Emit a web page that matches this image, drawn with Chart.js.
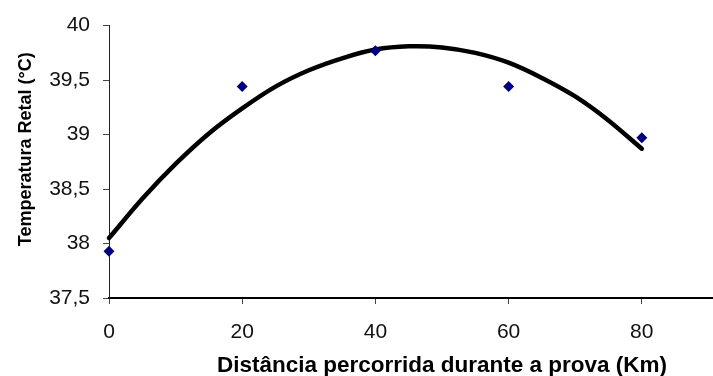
<!DOCTYPE html>
<html>
<head>
<meta charset="utf-8">
<script src="https://cdn.jsdelivr.net/npm/chart.js@4"></script>
<style>
    html, body { margin: 0; padding: 0; background: #fff; overflow: hidden; }
    /* the original picture is cropped on the right, the x axis runs on to 100 */
    .wrap { width: 820px; height: 376px; }
</style>
</head>
<body>
<div class="wrap"><canvas id="tempChart" width="820" height="376"></canvas></div>
<script>
// measured points (km, °C)
const distances = [0, 20, 40, 60, 80];
const temperatures = [37.93, 39.44, 39.77, 39.44, 38.97];

// trend curve every 5 km
const trendX = [0, 5, 10, 15, 20, 25, 30, 35, 40, 45, 50, 55, 60, 65, 70, 75, 80];
const trendY = [38.05, 38.41, 38.73, 39.01, 39.24, 39.44, 39.59, 39.70, 39.78,
                39.81, 39.80, 39.75, 39.66, 39.52, 39.35, 39.13, 38.87];

// tick labels
const xTicks = [0, 20, 40, 60, 80, 100];
const yTicks = [37.5, 38, 38.5, 39, 39.5, 40];

const fontFamily = '"Liberation Sans", Arial, sans-serif';

function initTempChart() {
    const ctx = document.getElementById('tempChart').getContext('2d');
    new Chart(ctx, {
        type: 'scatter',
        data: {
            datasets: [{
                label: 'Tendência',
                data: trendX.map((x, i) => ({ x: x, y: trendY[i] })),
                showLine: true,
                borderColor: '#000',
                borderWidth: 4.5,
                borderCapStyle: 'round',
                tension: 0.3,
                pointRadius: 0,
                clip: false,
                order: 2
            }, {
                label: 'Temperatura',
                data: distances.map((x, i) => ({ x: x, y: temperatures[i] })),
                pointStyle: 'rectRot',
                pointRadius: 5.5,
                backgroundColor: '#00007f',
                borderColor: '#00007f',
                borderWidth: 0,
                clip: false,
                order: 1
            }]
        },
        options: {
            responsive: false,
            animation: false,
            layout: {
                padding: { top: 21, right: 45, left: 0, bottom: 0 }
            },
            plugins: {
                legend: { display: false },
                tooltip: { enabled: false }
            },
            scales: {
                x: {
                    type: 'linear',
                    min: 0,
                    max: 100,
                    afterBuildTicks: s => { s.ticks = xTicks.map(v => ({ value: v })); },
                    afterFit: s => { s.height = 78; },
                    ticks: {
                        color: '#111',
                        padding: 16,
                        font: { family: fontFamily, size: 21 }
                    },
                    grid: { drawOnChartArea: false, tickLength: 6, color: '#444' },
                    border: { color: '#000', width: 2 },
                    title: {
                        display: true,
                        text: 'Distância percorrida durante a prova (Km)',
                        color: '#000',
                        padding: { top: 0, bottom: -3 },
                        font: { family: fontFamily, size: 22.5, weight: 'bold' }
                    }
                },
                y: {
                    min: 37.5,
                    max: 40,
                    afterBuildTicks: s => { s.ticks = yTicks.map(v => ({ value: v })); },
                    afterFit: s => { s.width = 109; },
                    ticks: {
                        color: '#111',
                        padding: 13,
                        font: { family: fontFamily, size: 21 },
                        callback: v => String(v).replace('.', ',')
                    },
                    grid: { drawOnChartArea: false, tickLength: 6, color: '#444' },
                    border: { color: '#222', width: 1 },
                    title: {
                        display: true,
                        // leading spaces lift the title a little, as in the original
                        text: '\u00a0\u00a0\u00a0\u00a0\u00a0Temperatura Retal (°C)',
                        color: '#000',
                        padding: { top: 15, bottom: 0 },
                        font: { family: fontFamily, size: 18, weight: 'bold' }
                    }
                }
            }
        }
    });
}

initTempChart();
</script>
</body>
</html>
